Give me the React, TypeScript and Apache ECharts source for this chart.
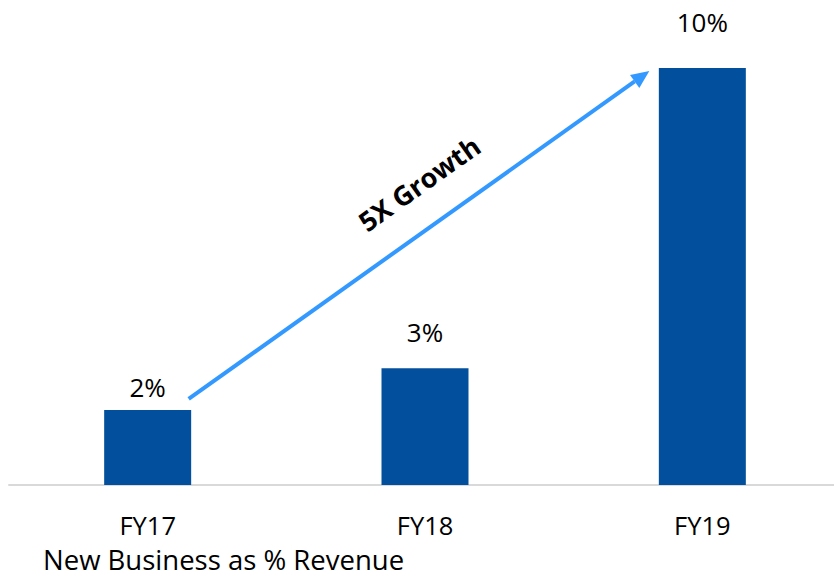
import React, { useEffect, useRef } from "react";
import * as echarts from "echarts";

const categories = ["FY17", "FY18", "FY19"];
const values = [1.8, 2.8, 10.0];
const labelDistances = [10, 23, 33];
const titleText = "New Business as % Revenue";
const annotationText = "5X Growth";

const FONT = "'Open Sans', sans-serif";
const BAR = "#02509D";
const ARROW = "#3399FF";

export default function App() {
  const ref = useRef<HTMLDivElement>(null);
  useEffect(() => {
    document.body.style.margin = "0";
    const chart = echarts.init(ref.current!, null, { renderer: "svg" });
    chart.setOption({
      animation: false,
      backgroundColor: "#ffffff",
      grid: { left: 9, right: 1, top: 68, bottom: 93, containLabel: false },
      xAxis: {
        type: "category",
        data: categories,
        axisLine: { lineStyle: { color: "#D9D9D9", width: 2 } },
        axisTick: { show: false },
        axisLabel: { color: "#000", fontFamily: FONT, fontSize: 25.5, margin: 27 },
      },
      yAxis: { type: "value", min: 0, max: 10, show: false, splitLine: { show: false } },
      series: [
        {
          type: "bar",
          barWidth: 87,
          itemStyle: { color: BAR },
          data: values.map((v, i) => ({
            value: v,
            label: { distance: labelDistances[i] },
          })),
          label: {
            show: true,
            position: "top",
            color: "#000",
            fontFamily: FONT,
            fontSize: 26,
            formatter: (p: any) => Math.round(p.value) + "%",
          },
        },
      ],
    });

    const p0 = chart.convertToPixel({ gridIndex: 0 }, [0, values[0]]) as number[];
    const p2 = chart.convertToPixel({ gridIndex: 0 }, [2, values[2]]) as number[];
    const x1 = p0[0] + 41;
    const y1 = p0[1] - 11;
    const x2 = p2[0] - 53;
    const y2 = p2[1] + 3;
    const ang = Math.atan2(y2 - y1, x2 - x1);
    const headLen = 18;
    const headW = 8;
    const bx = x2 - headLen * Math.cos(ang);
    const by = y2 - headLen * Math.sin(ang);
    const nx = -Math.sin(ang);
    const ny = Math.cos(ang);
    const mx = (x1 + x2) / 2;
    const my = (y1 + y2) / 2;
    const off = 42;
    const along = 30;

    chart.setOption({
      graphic: [
        {
          type: "line",
          shape: { x1, y1, x2: bx, y2: by },
          style: { stroke: ARROW, lineWidth: 4 },
        },
        {
          type: "polygon",
          shape: {
            points: [
              [x2, y2],
              [bx + nx * headW, by + ny * headW],
              [bx - nx * headW, by - ny * headW],
            ],
          },
          style: { fill: ARROW },
        },
        {
          type: "text",
          x: mx + off * Math.sin(ang) + along * Math.cos(ang),
          y: my - off * Math.cos(ang) + along * Math.sin(ang),
          rotation: -ang,
          style: {
            text: annotationText,
            fontFamily: FONT,
            fontWeight: "bold",
            fontSize: 27,
            fill: "#000",
            align: "center",
            verticalAlign: "middle",
          },
        },
        {
          type: "text",
          left: 43,
          top: 545,
          style: {
            text: titleText,
            fontFamily: FONT,
            fontSize: 27.5,
            fill: "#000",
          },
        },
      ],
    });
    return () => chart.dispose();
  }, []);
  return (
    <div style={{ width: 834, height: 578, overflow: "hidden" }}>
      <div ref={ref} style={{ width: 842, height: 578 }} />
    </div>
  );
}
